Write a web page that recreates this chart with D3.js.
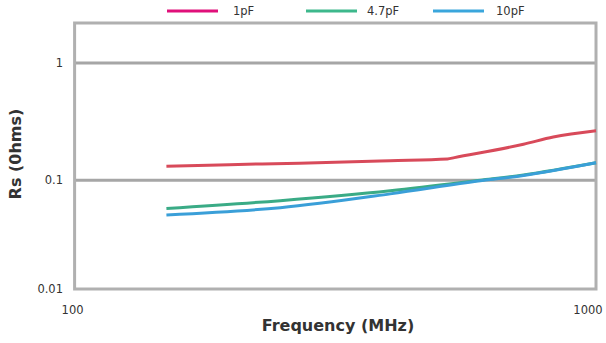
<!DOCTYPE html>
<html><head><meta charset="utf-8">
<script src="https://cdn.jsdelivr.net/npm/d3@7"></script>
<style>body{margin:0;background:#fff}svg{display:block}</style>
</head><body>
<svg id="c" width="606" height="343"></svg>
<script>
const seriesNames = ["1pF", "4.7pF", "10pF"];
const lineColors = ["#d84a5a", "#3aab86", "#3a9fd8"];
const legendColors = ["#e0107a", "#3db88c", "#3aa6dc"];
const freq1 = [150, 198, 270, 403, 519, 535, 726, 828, 1000];
const rs1 = [0.132, 0.136, 0.140, 0.147, 0.152, 0.156, 0.203, 0.234, 0.265];
const freq2 = [150, 248, 403, 600, 726, 1000];
const rs2 = [0.055, 0.065, 0.080, 0.100, 0.111, 0.141];
const freq3 = [150, 248, 403, 600, 726, 1000];
const rs3 = [0.048, 0.056, 0.075, 0.099, 0.110, 0.141];
const yTicks = [0.01, 0.1, 1];
const yTickLabels = ["0.01", "0.1", "1"];
const xTicks = [100, 1000];
const xTickLabels = ["100", "1000"];

const svg = d3.select("#c");
const x = d3.scaleLog().domain([100, 1000]).range([74.6, 596]);
const y = d3.scaleLog().domain([0.01, 0.1, 1, 2.2]).range([289, 180.3, 63, 23]);

// gridlines
svg.append("g").selectAll("line").data([0.1, 1]).join("line")
  .attr("x1", x(100)).attr("x2", x(1000))
  .attr("y1", d => y(d)).attr("y2", d => y(d))
  .attr("stroke", "#a6a6a6").attr("stroke-width", 3);

// border
svg.append("rect").attr("x", x(100)).attr("y", y(2.2))
  .attr("width", x(1000) - x(100)).attr("height", y(0.01) - y(2.2))
  .attr("fill", "none").attr("stroke", "#b0b0b0").attr("stroke-width", 3);

// y tick labels
svg.append("g").selectAll("text").data(yTicks).join("text")
  .attr("x", 63).attr("y", d => y(d)).attr("dy", "0.35em")
  .attr("text-anchor", "end").attr("font-family", "DejaVu Sans, Verdana, sans-serif")
  .attr("font-size", 11.5).attr("fill", "#333")
  .text((d, i) => yTickLabels[i]);

// x tick labels
svg.append("g").selectAll("text").data(xTicks).join("text")
  .attr("x", (d, i) => x(d) + (i === 0 ? -2 : -8)).attr("y", 314)
  .attr("text-anchor", "middle").attr("font-family", "DejaVu Sans, Verdana, sans-serif")
  .attr("font-size", 11.5).attr("fill", "#333")
  .text((d, i) => xTickLabels[i]);

// axis titles
svg.append("text").attr("x", 338).attr("y", 331).attr("text-anchor", "middle")
  .attr("font-family", "DejaVu Sans, Verdana, sans-serif").attr("font-weight", "bold")
  .attr("font-size", 16).attr("fill", "#333").text("Frequency (MHz)");
svg.append("text").attr("transform", "translate(21,154) rotate(-90)").attr("text-anchor", "middle")
  .attr("font-family", "DejaVu Sans, Verdana, sans-serif").attr("font-weight", "bold")
  .attr("font-size", 16).attr("fill", "#333").text("Rs (0hms)");

// lines
const data = [[freq1, rs1], [freq2, rs2], [freq3, rs3]];
const line = d3.line().x(d => x(d[0])).y(d => y(d[1])).curve(d3.curveMonotoneX);
data.forEach(([f, r], i) => {
  svg.append("path").datum(f.map((v, j) => [v, r[j]]))
    .attr("d", line).attr("fill", "none")
    .attr("stroke", lineColors[i]).attr("stroke-width", 3);
});

// legend
const legX = [167, 306, 433];
const legTextX = [233, 367, 496];
seriesNames.forEach((n, i) => {
  svg.append("line").attr("x1", legX[i]).attr("x2", legX[i] + 51)
    .attr("y1", 11).attr("y2", 11).attr("stroke", legendColors[i]).attr("stroke-width", 3);
  svg.append("text").attr("x", legTextX[i]).attr("y", 11).attr("dy", "0.35em")
    .attr("font-family", "DejaVu Sans, Verdana, sans-serif").attr("font-size", 11.5)
    .attr("fill", "#333").text(n);
});
</script>
</body></html>
